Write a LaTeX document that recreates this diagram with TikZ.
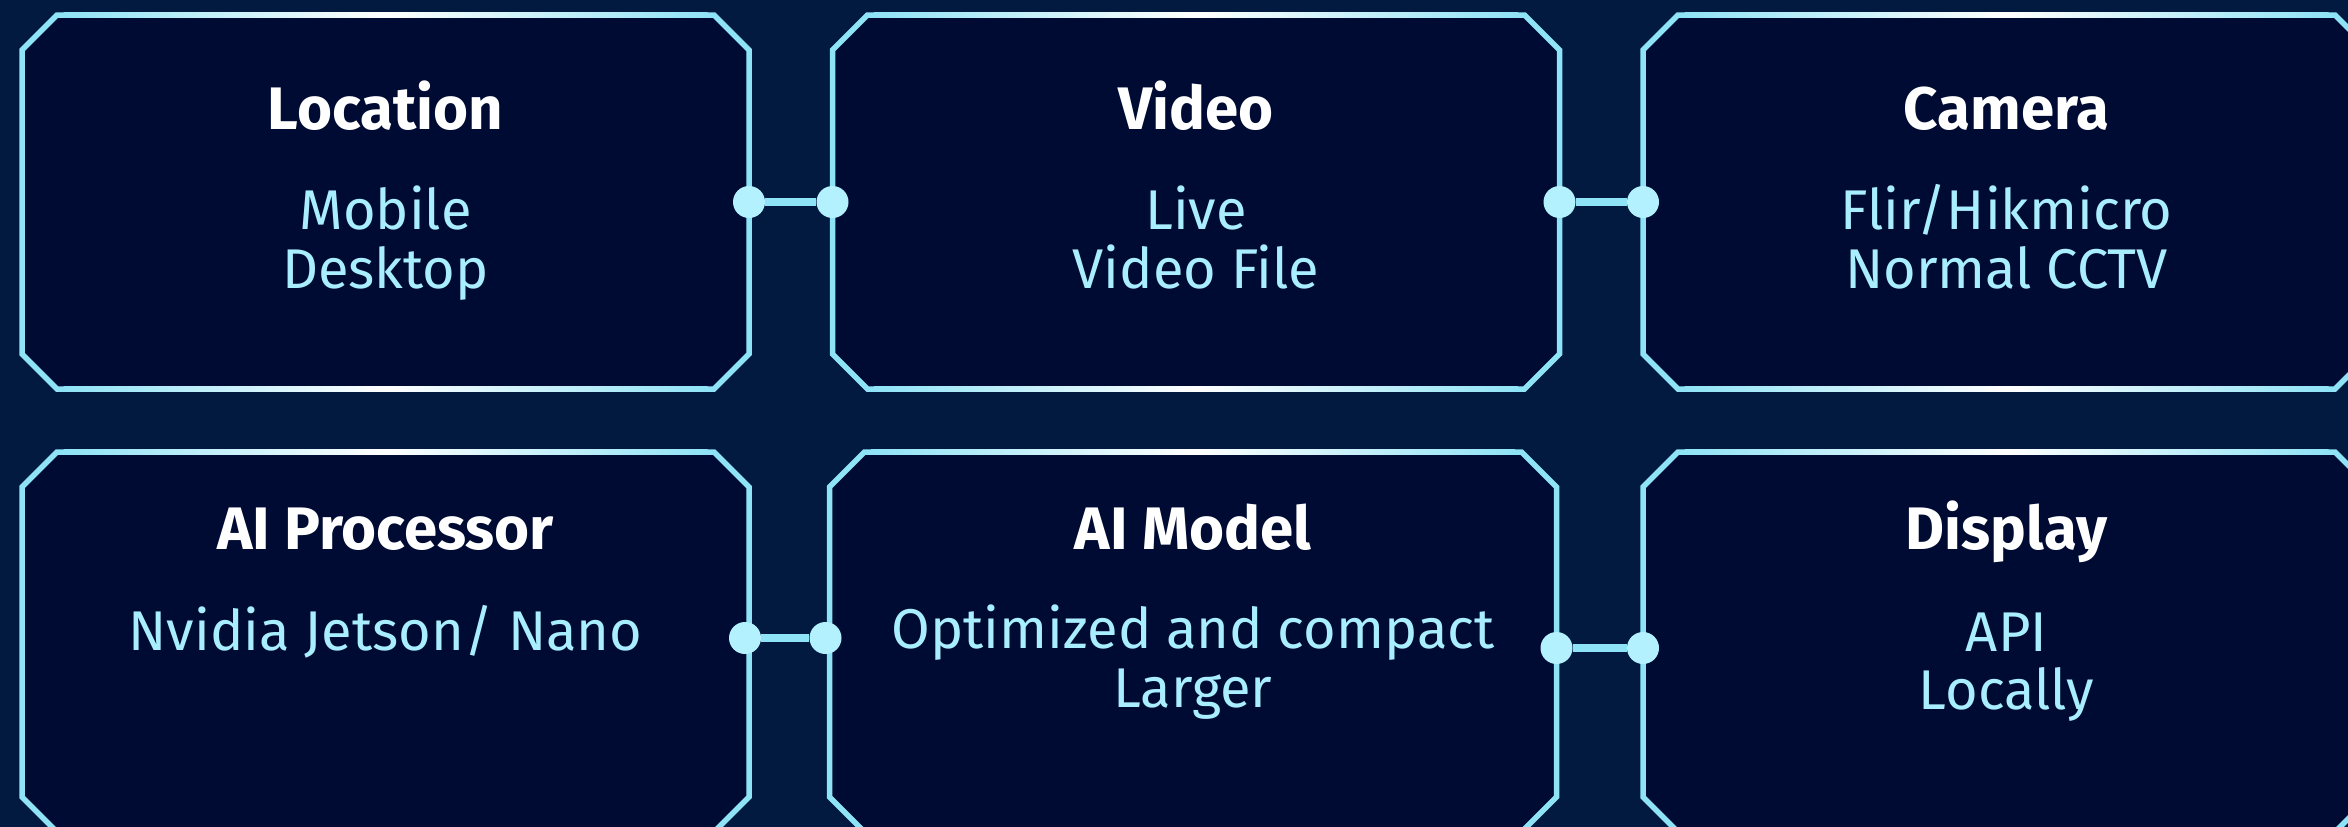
\documentclass[tikz,border=0pt]{standalone}
\usepackage{fontspec}
\setmainfont{Fira Sans}
\usetikzlibrary{calc}

\definecolor{bgnavy}{HTML}{021A40}
\definecolor{boxnavy}{HTML}{000B33}
\definecolor{edgecyan}{HTML}{8FE3F6}
\definecolor{dotcyan}{HTML}{B3F1FF}
\definecolor{textcyan}{HTML}{A9EEFF}

% octagon frame round a panel node
\newcommand{\panelframe}[1]{%
	\filldraw[frame] ($(#1.north west)+(35,0)$) -- ($(#1.north east)+(-35,0)$) -- ($(#1.north east)+(0,35)$)
	-- ($(#1.south east)+(0,-35)$) -- ($(#1.south east)+(-35,0)$) -- ($(#1.south west)+(35,0)$)
	-- ($(#1.south west)+(0,-35)$) -- ($(#1.north west)+(0,35)$) -- cycle;
	\shade[left color=edgecyan, right color=edgecyan, middle color=white] ($(#1.north)+(-322,-2.5)$) rectangle ($(#1.north)+(322,2.5)$);
	\shade[left color=edgecyan, right color=edgecyan, middle color=white] ($(#1.south)+(-322,-2.5)$) rectangle ($(#1.south)+(322,2.5)$);}

\begin{document}
\begin{tikzpicture}[x=1pt, y=-1pt]
			\tikzstyle{panel} = [rectangle, minimum width=727pt, minimum height=374pt, inner sep=0pt, outer sep=0pt]
			\tikzstyle{frame} = [draw=edgecyan, line width=5.5pt, fill=boxnavy, line join=miter]
			\tikzstyle{title} = [text=white, font=\fontsize{60}{66}\selectfont\bfseries, anchor=base, inner sep=0pt]
			\tikzstyle{body} = [text=textcyan, font=\fontsize{56}{60}\selectfont, anchor=base, inner sep=0pt]
			\tikzstyle{dot} = [circle, fill=dotcyan, minimum size=32pt, inner sep=0pt]
			\tikzstyle{link} = [draw=edgecyan, line width=8pt]

			\fill[bgnavy] (0,0) rectangle (2348,827);
			\useasboundingbox (0,0) rectangle (2348,827);
			\clip (0,0) rectangle (2348,827);

			% top row
			\node[panel] (location) at (385.5,202) {};
			\node[panel] (video) at (1196,202) {};
			\node[panel] (camera) at (2006.5,202) {};

			% bottom row
			\node[panel, minimum height=380pt] (processor) at (385.5,642) {};
			\node[panel, minimum height=380pt] (model) at (1193,642) {};
			\node[panel, minimum height=380pt] (display) at (2006.5,642) {};

			\panelframe{location}
			\panelframe{video}
			\panelframe{camera}
			\panelframe{processor}
			\panelframe{model}
			\panelframe{display}

			% texts
			\node[title] (location-t) at (385.5,129) {Location};
			\node[body] (location-a) at (385.5,229) {Mobile};
			\node[body] (location-b) at (385.5,288) {Desktop};

			\node[title] (video-t) at (1196,129) {Video};
			\node[body] (video-a) at (1196,229) {Live};
			\node[body] (video-b) at (1196,288) {Video File};

			\node[title] (camera-t) at (2006.5,129) {Camera};
			\node[body] (camera-a) at (2006.5,229) {Flir/Hikmicro};
			\node[body] (camera-b) at (2006.5,288) {Normal CCTV};

			\node[title] (processor-t) at (385.5,549) {AI Processor};
			\node[body] (processor-a) at (385.5,650) {Nvidia Jetson/ Nano};

			\node[title] (model-t) at (1193,549) {AI Model};
			\node[body] (model-a) at (1193,648) {Optimized and compact};
			\node[body] (model-b) at (1193,707) {Larger};

			\node[title] (display-t) at (2006.5,549) {Display};
			\node[body] (display-a) at (2006.5,651) {API};
			\node[body] (display-b) at (2006.5,709) {Locally};

			% connectors
			\node[dot] (j1) at (location.east) {};
			\node[dot] (j2) at (video.west) {};
			\node[dot] (j3) at (video.east) {};
			\node[dot] (j4) at (camera.west) {};
			\node[dot] (j5) at ($(processor.east |- 0,638)+(-4,0)$) {};
			\node[dot] (j6) at ($(model.west |- 0,638)+(-4,0)$) {};
			\node[dot] (j7) at (model.east |- 0,648) {};
			\node[dot] (j8) at (display.west |- 0,648) {};

			\path[link] (j1) -- (j2) (j3) -- (j4) (j5) -- (j6) (j7) -- (j8);
\end{tikzpicture}
\end{document}
